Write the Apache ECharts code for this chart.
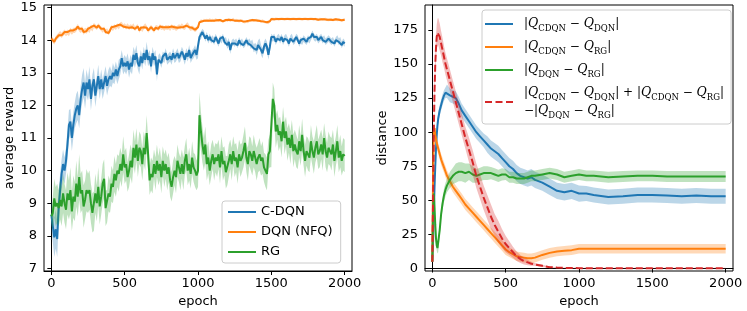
<!DOCTYPE html>
<html><head><meta charset="utf-8">
<script src="https://cdn.jsdelivr.net/npm/echarts@6/dist/echarts.min.js"></script>
<style>html,body{margin:0;padding:0;background:#fff}#c{width:747px;height:311px}</style>
</head><body><div id="c"></div>
<script>
// ---------- left panel: average reward (sampled every 10 epochs, 0..2000) ----------
const EPOCH_STEP = 10;
const cdqn = [8.65,8.3,7.95,8.2,7.9,8.9,9.4,9.9,10.2,10.0,
10.3,10.8,11.4,11.5,11.0,11.4,11.7,11.9,12.0,11.7,
12.2,12.5,12.7,12.3,12.7,12.5,12.8,12.2,12.6,12.8,
12.3,12.6,12.9,12.5,12.8,12.5,12.7,12.9,12.6,12.8,
12.9,12.8,13.0,12.9,13.1,12.9,13.1,13.2,13.45,13.2,
13.3,13.2,13.35,13.1,13.3,13.2,13.55,13.4,13.6,13.3,
13.2,13.5,13.3,13.6,13.4,13.7,13.4,13.5,13.2,13.6,
13.4,13.5,12.95,13.4,13.45,13.3,13.5,13.45,13.6,13.4,
13.45,13.5,13.4,13.6,13.45,13.5,13.6,13.45,13.5,13.65,
13.55,13.4,13.6,13.5,13.7,13.45,13.55,13.6,13.7,13.55,
13.6,14.1,14.15,14.25,14.2,14.05,14.15,14.0,14.1,14.0,
14.05,13.95,14.1,14.0,13.9,14.05,14.0,14.1,13.95,14.0,
13.85,13.95,13.7,13.9,13.95,13.9,13.95,13.85,14.0,13.9,
13.95,13.85,13.9,14.0,13.9,13.95,13.85,13.9,13.75,13.8,
13.7,13.85,13.9,13.7,13.6,13.8,13.9,13.8,13.55,13.8,
14.1,14.05,14.1,13.95,14.05,14.1,14.0,14.1,13.95,14.05,
14.1,14.0,13.9,14.05,14.1,13.95,14.0,14.1,14.05,13.9,
14.0,13.95,14.05,14.0,13.95,14.05,14.0,14.1,14.2,14.1,
14.05,14.1,14.0,14.05,14.1,14.0,14.05,13.95,14.0,14.05,
14.0,13.95,14.0,13.9,14.0,14.05,13.95,14.0,13.85,13.95,
13.9];
const cdqnHalf = [0.45,0.5,0.6,0.6,0.55,0.5,0.5,0.45,0.45,0.4,
0.4,0.45,0.45,0.4,0.4,0.4,0.4,0.45,0.45,0.4,
0.4,0.45,0.45,0.4,0.4,0.35,0.4,0.35,0.35,0.35,
0.35,0.3,0.35,0.3,0.3,0.3,0.3,0.3,0.3,0.3,
0.3,0.25,0.3,0.25,0.25,0.25,0.3,0.25,0.25,0.25,
0.25,0.25,0.25,0.25,0.25,0.25,0.25,0.25,0.25,0.2,
0.25,0.2,0.2,0.2,0.2,0.25,0.2,0.2,0.2,0.2,
0.2,0.2,0.2,0.15,0.15,0.15,0.15,0.15,0.15,0.15,
0.15,0.15,0.15,0.15,0.15,0.15,0.15,0.15,0.15,0.15,
0.15,0.15,0.15,0.15,0.15,0.15,0.15,0.15,0.15,0.15,
0.15,0.12,0.12,0.1,0.1,0.1,0.1,0.1,0.1,0.1,
0.1,0.1,0.1,0.1,0.1,0.1,0.1,0.1,0.1,0.1,
0.12,0.12,0.12,0.1,0.1,0.1,0.1,0.1,0.1,0.1,
0.1,0.1,0.1,0.1,0.1,0.1,0.12,0.12,0.12,0.12,
0.15,0.15,0.15,0.15,0.15,0.15,0.15,0.15,0.15,0.12,
0.1,0.1,0.1,0.1,0.1,0.1,0.1,0.1,0.1,0.1,
0.1,0.1,0.1,0.1,0.1,0.1,0.1,0.1,0.1,0.1,
0.1,0.1,0.1,0.1,0.1,0.1,0.1,0.1,0.1,0.1,
0.1,0.1,0.1,0.1,0.1,0.1,0.1,0.1,0.1,0.1,
0.1,0.1,0.1,0.1,0.1,0.1,0.1,0.1,0.1,0.1,
0.1];
const dqn = [14.05,14.0,13.95,14.05,14.1,14.15,14.2,14.15,14.2,14.25,
14.2,14.25,14.2,14.3,14.25,14.3,14.3,14.35,14.42,14.35,
14.3,14.35,14.25,14.3,14.28,14.35,14.3,14.4,14.35,14.45,
14.42,14.38,14.45,14.4,14.35,14.3,14.35,14.25,14.3,14.22,
14.3,14.4,14.35,14.42,14.38,14.45,14.4,14.48,14.5,14.42,
14.45,14.4,14.45,14.38,14.42,14.4,14.45,14.35,14.4,14.42,
14.3,14.38,14.32,14.4,14.45,14.38,14.3,14.35,14.4,14.35,
14.3,14.38,14.4,14.35,14.42,14.38,14.4,14.35,14.4,14.38,
14.4,14.35,14.42,14.38,14.4,14.35,14.38,14.42,14.4,14.45,
14.4,14.38,14.45,14.48,14.4,14.35,14.38,14.35,14.32,14.35,
14.4,14.55,14.6,14.58,14.62,14.6,14.62,14.6,14.63,14.6,
14.62,14.6,14.63,14.61,14.6,14.62,14.6,14.58,14.6,14.62,
14.6,14.63,14.6,14.62,14.65,14.6,14.62,14.6,14.58,14.6,
14.6,14.57,14.55,14.58,14.56,14.6,14.6,14.62,14.6,14.61,
14.62,14.6,14.6,14.58,14.6,14.57,14.55,14.55,14.53,14.58,
14.65,14.65,14.64,14.66,14.65,14.64,14.65,14.66,14.65,14.64,
14.65,14.66,14.65,14.64,14.65,14.66,14.65,14.64,14.65,14.66,
14.65,14.64,14.65,14.66,14.65,14.64,14.65,14.66,14.65,14.64,
14.65,14.64,14.63,14.65,14.64,14.63,14.64,14.65,14.63,14.62,
14.63,14.64,14.62,14.63,14.64,14.62,14.63,14.62,14.61,14.62,
14.63];
const dqnHalf = [0.08,0.08,0.08,0.08,0.08,0.08,0.08,0.08,0.08,0.08,
0.08,0.08,0.08,0.08,0.08,0.08,0.08,0.08,0.08,0.08,
0.08,0.08,0.08,0.08,0.08,0.08,0.08,0.08,0.08,0.08,
0.07,0.07,0.07,0.07,0.07,0.07,0.07,0.07,0.07,0.07,
0.07,0.07,0.07,0.07,0.07,0.07,0.07,0.07,0.07,0.07,
0.07,0.07,0.07,0.07,0.07,0.07,0.07,0.07,0.07,0.07,
0.07,0.07,0.07,0.07,0.07,0.07,0.07,0.07,0.07,0.07,
0.07,0.07,0.07,0.07,0.07,0.07,0.07,0.07,0.07,0.07,
0.07,0.07,0.07,0.07,0.07,0.07,0.07,0.07,0.07,0.07,
0.07,0.07,0.07,0.07,0.07,0.07,0.07,0.07,0.07,0.07,
0.05,0.04,0.04,0.04,0.04,0.04,0.04,0.04,0.04,0.04,
0.04,0.04,0.04,0.04,0.04,0.04,0.04,0.04,0.04,0.04,
0.04,0.04,0.04,0.04,0.04,0.04,0.04,0.04,0.04,0.04,
0.04,0.04,0.04,0.04,0.04,0.04,0.04,0.04,0.04,0.04,
0.04,0.04,0.04,0.04,0.04,0.04,0.04,0.04,0.04,0.04,
0.04,0.04,0.04,0.04,0.04,0.04,0.04,0.04,0.04,0.04,
0.04,0.04,0.04,0.04,0.04,0.04,0.04,0.04,0.04,0.04,
0.04,0.04,0.04,0.04,0.04,0.04,0.04,0.04,0.04,0.04,
0.04,0.04,0.04,0.04,0.04,0.04,0.04,0.04,0.04,0.04,
0.04,0.04,0.04,0.04,0.04,0.04,0.04,0.04,0.04,0.04,
0.04];
const rg = [8.6,8.7,9.15,8.9,9.0,8.85,9.1,8.9,9.3,9.0,
8.8,9.3,9.1,9.4,8.75,9.2,9.05,9.6,9.2,9.8,
9.3,9.4,8.9,9.1,9.4,9.3,9.4,9.0,8.7,8.75,
9.3,9.0,9.5,8.9,9.2,9.6,9.75,8.85,8.9,9.3,
9.2,9.6,9.5,9.9,9.7,10.0,9.9,10.2,10.0,10.5,
10.1,10.2,9.8,10.0,10.3,10.1,10.7,10.4,10.8,10.3,
10.7,10.6,10.2,10.7,10.5,11.15,10.5,9.7,9.9,9.8,
10.2,9.9,10.3,10.0,10.2,9.8,10.3,10.0,10.2,9.9,
10.1,9.7,9.5,9.8,10.0,9.8,10.3,10.1,9.9,10.2,
9.9,10.3,10.5,10.0,10.2,9.9,10.4,10.1,10.0,9.85,
10.0,11.7,11.2,10.8,10.5,10.8,10.2,10.4,10.0,10.3,
10.5,10.2,10.4,10.3,10.5,10.1,10.6,10.2,10.3,9.95,
10.0,10.3,10.5,10.2,10.6,10.3,10.4,10.1,10.5,10.3,
10.4,10.6,10.85,10.4,10.2,10.6,10.5,10.3,10.6,10.4,
10.2,10.4,10.5,10.3,10.4,10.1,10.0,9.9,10.5,10.6,
10.6,12.2,12.0,11.2,11.4,11.1,11.2,10.9,11.5,11.0,
11.2,10.8,11.0,10.7,11.1,10.6,10.8,10.6,10.5,10.9,
10.6,11.1,10.6,10.3,10.6,10.5,10.4,10.9,10.6,10.4,
10.7,10.9,10.5,10.6,10.8,10.5,11.0,10.6,10.4,10.7,
10.6,10.5,10.8,10.3,10.6,10.9,10.4,10.6,10.3,10.5,
10.45];
const rgHalf = [0.2,0.5,0.6,0.6,0.6,0.55,0.6,0.6,0.6,0.6,
0.6,0.65,0.6,0.7,0.6,0.65,0.6,0.7,0.6,0.7,
0.6,0.6,0.65,0.6,0.65,0.6,0.6,0.6,0.6,0.6,
0.6,0.55,0.6,0.55,0.55,0.6,0.6,0.55,0.5,0.55,
0.5,0.55,0.5,0.55,0.5,0.5,0.55,0.5,0.5,0.55,
0.5,0.5,0.45,0.5,0.5,0.5,0.55,0.5,0.5,0.5,
0.5,0.5,0.5,0.5,0.5,0.55,0.5,0.45,0.5,0.5,
0.45,0.5,0.5,0.45,0.5,0.5,0.45,0.5,0.45,0.5,
0.45,0.5,0.45,0.5,0.45,0.5,0.5,0.45,0.5,0.45,
0.5,0.45,0.5,0.45,0.5,0.45,0.5,0.45,0.5,0.45,
0.5,0.7,0.6,0.55,0.5,0.55,0.5,0.5,0.45,0.5,
0.45,0.5,0.45,0.5,0.45,0.5,0.45,0.5,0.45,0.5,
0.45,0.5,0.45,0.5,0.45,0.5,0.45,0.5,0.45,0.5,
0.45,0.5,0.5,0.45,0.5,0.45,0.5,0.45,0.5,0.45,
0.5,0.45,0.5,0.45,0.5,0.45,0.5,0.5,0.45,0.5,
0.5,0.5,0.5,0.5,0.45,0.5,0.45,0.5,0.45,0.5,
0.45,0.5,0.45,0.5,0.45,0.5,0.45,0.5,0.45,0.5,
0.45,0.5,0.45,0.5,0.45,0.5,0.45,0.5,0.45,0.5,
0.45,0.5,0.45,0.5,0.45,0.5,0.45,0.5,0.45,0.5,
0.45,0.5,0.45,0.5,0.45,0.5,0.45,0.5,0.45,0.5,
0.5];
const leftTicksY = [7,8,9,10,11,12,13,14,15];
const ticksX = [0,500,1000,1500,2000];

// ---------- right panel: distance ----------
const dEpoch = [0,5,10,15,20,25,30,35,40,50,60,70,80,90,100,120,140,160,180,200,225,250,275,300,325,350,375,400,425,450,475,500,525,550,575,600,625,650,675,700,750,800,850,900,950,1000,1050,1100,1200,1300,1400,1500,1600,1700,1800,1900,2000];
const dCdqnDqn = [5,20,40,60,75,88,98,105,110,116,120,124,127,129,130,127,126,125,121,116,112,108,104,100,97,94,91,88,86,84,81,78,75,73,70,68,67,66,67,65,63,60,57,56,57,55,55,54,52.5,53,54,54,53.5,53,53.5,53,53];
const dCdqnDqnHalf = [1,2,3,4,4,4,4,4,4,4,4,4,4,4,5,5,5,5,5,5,5,5,5,5,5,5,6,6,6,6,6,6,6,6,6,6,6,6,6,6,6,6,6,6,6,6,5.5,5.5,5.5,5.5,5.5,5.5,5.5,5.5,5.5,5.5,5.5];
const dCdqnRg = [5,70,100,103,98,95,92,90,88,84,80,77,74,71,68,64,60,57,54,51,47,44,41,38,35,32,29,26,23,20,17,14,12,10.5,9,8.5,8,7.5,7.5,8,10,11.5,12.5,13,13.5,14.5,14.5,14.5,14.5,14.5,14.5,14.5,14.5,14.5,14.5,14.5,14.5];
const dCdqnRgHalf = [1,3,4,4,4,4,4,4,4,4,4,4,4,4,4,4,4,4,4,4,4,4,4,4,4,4,4,4,4,4,4,4,3.5,3.5,3.5,3.5,3.5,3.5,3.5,3.5,3.5,3.5,3.5,3.5,3.5,3.5,3.5,3.5,3.5,3.5,3.5,3.5,3.5,3.5,3.5,3.5,3.5];
const dDqnRg = [5,45,55,45,32,22,17,15,16,28,40,48,54,58,61,65,68,70,71,71,70,71,69,68,69,70,70,70,69,68,69,69,67,67,66,66,66,67,68,68,69,70,69,67,68,69,68,68,67,67.5,68,68,67.5,67.5,67.5,67.5,67.5];
const dDqnRgHalf = [1,3,4,4,4,4,4,4,4,4,4,4,5,5,5,6,6,7,7,7,7,6,6,5,5,5,5,4.5,4.5,4.5,4.5,4,4,4,4,4,4,4,4,4,4,4,4,4,4,4,4,4,4,4,4,4,4,4,4,4,4];
const dTriangle = [5,50,100,130,150,162,170,173,174,170,165,160,155,150,146,138,130,122,114,106,96,87,78,68,60,52,45,38,32,27,22,18,15,12,9,7,5.5,4.5,3.5,3,2,1,0.7,0.5,0.4,0.3,0.3,0.3,0.3,0.3,0.3,0.3,0.3,0.3,0.3,0.3,0.3];
const dTriangleHalf = [1,3,5,7,8,9,9,10,10,10,9,9,8,8,8,8,8,8,8,8,8,9,9,9,9,9,9,9,8,8,7,6,5,4,3.5,3,2.5,2,1.5,1,0.8,0.5,0.3,0.3,0.3,0.3,0.3,0.3,0.3,0.3,0.3,0.3,0.3,0.3,0.3,0.3,0.3];
const rightTicksY = [0,25,50,75,100,125,150,175];

const C = {blue:'#1f77b4', orange:'#ff7f0e', green:'#2ca02c', red:'#d62728'};
const CA = {blue:'rgba(31,119,180,0.3)', orange:'rgba(255,127,14,0.3)', green:'rgba(44,160,44,0.3)', red:'rgba(214,39,40,0.3)'};

const leftEpochs = cdqn.map((_, i) => i * EPOCH_STEP);

function bandSeries(xs, mean, half, fill, axis, z) {
  return {
    type: 'custom', xAxisIndex: axis, yAxisIndex: axis, z: z, silent: true, clip: true,
    data: xs.map((x, i) => [x, mean[i] - half[i], mean[i] + half[i]]),
    encode: {x: 0, y: [1, 2]},
    renderItem: function (params, api) {
      if (params.dataIndex !== 0) return null;
      const up = [], lo = [];
      for (let i = 0; i < xs.length; i++) {
        up.push(api.coord([xs[i], mean[i] + half[i]]));
        lo.push(api.coord([xs[i], mean[i] - half[i]]));
      }
      return {type: 'polygon', shape: {points: up.concat(lo.reverse())}, style: {fill: fill, stroke: null}};
    }
  };
}
function lineSeries(name, xs, mean, color, axis, z, dashed) {
  return {
    type: 'line', name: name, xAxisIndex: axis, yAxisIndex: axis, z: z,
    data: xs.map((x, i) => [x, mean[i]]), symbol: 'none', showSymbol: false,
    lineStyle: {width: 2, color: color, type: dashed ? [7, 3] : 'solid'},
    itemStyle: {color: color}, emphasis: {disabled: true}
  };
}

const N1 = '|Q_CDQN − Q_DQN|', N2 = '|Q_CDQN − Q_RG|', N3 = '|Q_DQN − Q_RG|',
      N4 = '|Q_CDQN − Q_DQN| + |Q_CDQN − Q_RG| − |Q_DQN − Q_RG|';
const richLabel = {};
richLabel[N1] = '|{q|Q}{s|CDQN} − {q|Q}{s|DQN}|';
richLabel[N2] = '|{q|Q}{s|CDQN} − {q|Q}{s|RG}|';
richLabel[N3] = '|{q|Q}{s|DQN} − {q|Q}{s|RG}|';
richLabel[N4] = '|{q|Q}{s|CDQN} − {q|Q}{s|DQN}| + |{q|Q}{s|CDQN} − {q|Q}{s|RG}|\n−|{q|Q}{s|DQN} − {q|Q}{s|RG}|';

const SOLID_ICON = 'path://M0,0H28V2H0Z';
const DASH_ICON = 'path://M0,0h7v2h-7zM10.5,0h7v2h-7zM21,0h7v2h-7z';

const FONT = 'DejaVu Sans';
function xAxis(gi) {
  return {
    type: 'value', gridIndex: gi, min: -50, max: 2050,
    name: 'epoch', nameLocation: 'middle', nameGap: 24,
    nameTextStyle: {fontSize: 13, color: '#000', fontFamily: FONT},
    axisLine: {show: true, lineStyle: {color: '#000', width: 1}},
    axisTick: {show: true, length: 4, lineStyle: {color: '#000', width: 1}, customValues: ticksX},
    axisLabel: {fontSize: 13, color: '#000', fontFamily: FONT, margin: 6, customValues: ticksX, formatter: v => String(v)},
    splitLine: {show: false}
  };
}
function yAxis(gi, min, max, ticks, name, gap) {
  return {
    type: 'value', gridIndex: gi, min: min, max: max,
    name: name, nameLocation: 'middle', nameGap: gap,
    nameTextStyle: {fontSize: 13, color: '#000', fontFamily: FONT},
    axisLine: {show: true, lineStyle: {color: '#000', width: 1}},
    axisTick: {show: true, length: 4, lineStyle: {color: '#000', width: 1}, customValues: ticks},
    axisLabel: {fontSize: 13, color: '#000', fontFamily: FONT, margin: 7, customValues: ticks, formatter: v => String(v)},
    splitLine: {show: false}
  };
}

const chart = echarts.init(document.getElementById('c'), null, {renderer: 'canvas'});
chart.setOption({
  animation: false,
  backgroundColor: '#fff',
  grid: [
    {left: 44, top: 5, width: 308, height: 266, show: true, borderColor: '#000', borderWidth: 1, backgroundColor: 'transparent', containLabel: false, outerBoundsMode: 'none'},
    {left: 425, top: 5, width: 308, height: 266, show: true, borderColor: '#000', borderWidth: 1, backgroundColor: 'transparent', containLabel: false, outerBoundsMode: 'none'}
  ],
  xAxis: [xAxis(0), xAxis(1)],
  yAxis: [yAxis(0, 6.92, 15.08, leftTicksY, 'average reward', 27), yAxis(1, -1.8, 193.3, rightTicksY, 'distance', 33)],
  legend: [
    {
      data: [{name: 'C-DQN', icon: SOLID_ICON}, {name: 'DQN (NFQ)', icon: SOLID_ICON}, {name: 'RG', icon: SOLID_ICON}],
      orient: 'vertical', left: 222, top: 201,
      itemWidth: 28, itemHeight: 2, itemGap: 6, padding: [4, 8, 4, 6],
      backgroundColor: 'rgba(255,255,255,0.8)', borderColor: '#cccccc', borderWidth: 1, borderRadius: 3,
      textStyle: {fontSize: 13, color: '#000', fontFamily: FONT, lineHeight: 14}, z: 20, selectedMode: false
    },
    {
      data: [{name: N1, icon: SOLID_ICON}, {name: N2, icon: SOLID_ICON}, {name: N3, icon: SOLID_ICON}, {name: N4, icon: DASH_ICON}],
      orient: 'vertical', left: 482, top: 10,
      itemWidth: 28, itemHeight: 2, itemGap: 5, padding: [5, 7, 4, 3],
      backgroundColor: 'rgba(255,255,255,0.8)', borderColor: '#cccccc', borderWidth: 1, borderRadius: 3,
      formatter: name => richLabel[name],
      textStyle: {
        fontSize: 12, color: '#000', fontFamily: 'DejaVu Serif', lineHeight: 18, padding: [0, 0, 0, 6],
        rich: {
          q: {fontSize: 12.5, fontStyle: 'italic', fontFamily: 'DejaVu Serif', color: '#000', lineHeight: 18},
          s: {fontSize: 8.5, fontFamily: 'DejaVu Serif', color: '#000', lineHeight: 8, verticalAlign: 'bottom'}
        }
      },
      z: 20, selectedMode: false
    }
  ],
  series: [
    bandSeries(leftEpochs, cdqn, cdqnHalf, CA.blue, 0, 2),
    lineSeries('C-DQN', leftEpochs, cdqn, C.blue, 0, 3),
    bandSeries(leftEpochs, dqn, dqnHalf, CA.orange, 0, 4),
    lineSeries('DQN (NFQ)', leftEpochs, dqn, C.orange, 0, 5),
    bandSeries(leftEpochs, rg, rgHalf, CA.green, 0, 6),
    lineSeries('RG', leftEpochs, rg, C.green, 0, 7),
    bandSeries(dEpoch, dCdqnDqn, dCdqnDqnHalf, CA.blue, 1, 2),
    lineSeries(N1, dEpoch, dCdqnDqn, C.blue, 1, 3),
    bandSeries(dEpoch, dCdqnRg, dCdqnRgHalf, CA.orange, 1, 4),
    lineSeries(N2, dEpoch, dCdqnRg, C.orange, 1, 5),
    bandSeries(dEpoch, dDqnRg, dDqnRgHalf, CA.green, 1, 6),
    lineSeries(N3, dEpoch, dDqnRg, C.green, 1, 7),
    bandSeries(dEpoch, dTriangle, dTriangleHalf, CA.red, 1, 8),
    lineSeries(N4, dEpoch, dTriangle, C.red, 1, 9, true)
  ]
});
</script>
</body></html>
